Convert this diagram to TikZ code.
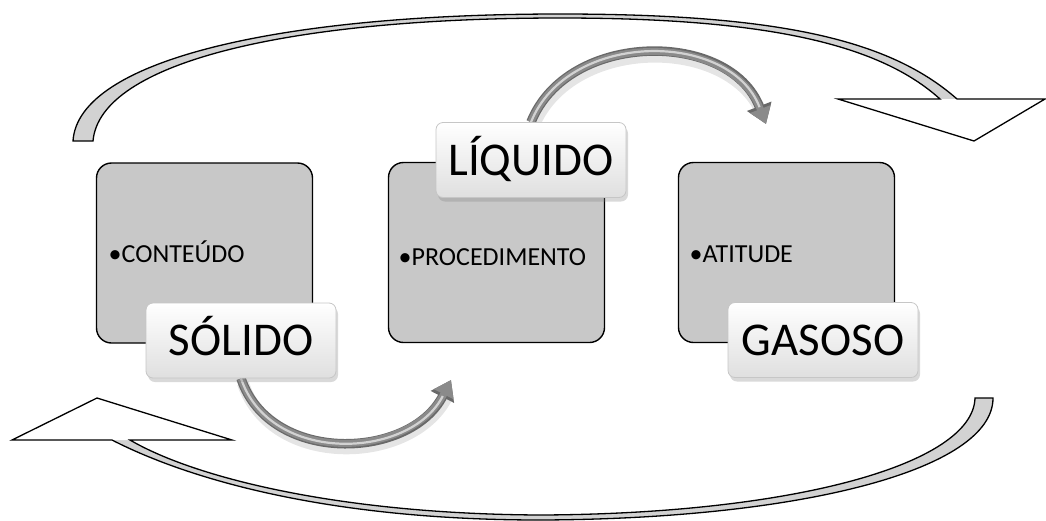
\documentclass[tikz,border=0pt]{standalone}
\usepackage{fontspec}
\setmainfont{Carlito}
\usetikzlibrary{arrows.meta,shadows}
\definecolor{boxgray}{RGB}{200,200,200}
\definecolor{bandgray}{RGB}{210,210,210}
\definecolor{tubegray}{RGB}{138,138,138}
\definecolor{tubedark}{RGB}{105,105,105}
\definecolor{tubelight}{RGB}{210,210,210}
\pgfdeclarelayer{bg}
\pgfsetlayers{bg,main}
\begin{document}
\begin{tikzpicture}[x=1pt,y=-1pt,
  phase/.style={draw=black, line width=1.4pt, fill=boxgray, rounded corners=15pt,
    minimum width=216pt, minimum height=180pt, inner sep=0pt},
  tag/.style={draw=gray!45, line width=0.8pt, top color=white, bottom color=gray!25,
    rounded corners=7pt, minimum width=190pt, minimum height=75pt, inner sep=0pt,
    text height=30pt, text depth=0pt, font=\fontsize{47}{50}\selectfont,
    drop shadow={opacity=0.3, shadow xshift=2pt, shadow yshift=-4pt}},
  item/.style={font=\fontsize{26}{28}\selectfont, anchor=base west, inner sep=0pt},
  band/.style={draw=black, line width=1.3pt, line join=miter},
  tubeshade/.style={line width=12pt, draw=black, opacity=0.10, shorten >=14pt,
    transform canvas={shift={(2pt,-5pt)}}},
  tubeedge/.style={line width=9.5pt, draw=tubedark, -{Triangle[length=19pt,width=25pt]}},
  tubemain/.style={line width=7pt, draw=tubegray, -{Triangle[length=16pt,width=21pt]}},
  tubehi/.style={line width=2.2pt, draw=tubelight, shorten >=18pt}
]
\path[use as bounding box] (0,0) rectangle (1046,520);

% big outline arrow, top
\fill[bandgray] (73,141) .. controls (78,60) and (280,14) .. (560,14)
  .. controls (780,14) and (890,40) .. (957,99) -- (940,99)
  .. controls (880,45) and (770,18) .. (560,18)
  .. controls (290,18) and (100,62) .. (93,141) -- cycle;
\fill[white] (957,99) -- (1045,99) -- (974,141) -- (838,99) -- (940,99) -- cycle;
\draw[band] (73,141) .. controls (78,60) and (280,14) .. (560,14)
  .. controls (780,14) and (890,40) .. (957,99) -- (1045,99) -- (974,141)
  -- (838,99) -- (940,99)
  .. controls (880,45) and (770,18) .. (560,18)
  .. controls (290,18) and (100,62) .. (93,141) -- cycle;

% big outline arrow, bottom
\fill[bandgray] (993,398) .. controls (993,470) and (800,519) .. (540,520)
  .. controls (330,520) and (190,480) .. (112,440) -- (130,440)
  .. controls (195,478) and (340,514) .. (540,515)
  .. controls (790,514) and (973,465) .. (975,398) -- cycle;
\fill[white] (112,440) -- (12,440) -- (97,398) -- (232,440) -- (130,440) -- cycle;
\draw[band] (993,398) .. controls (993,470) and (800,519) .. (540,520)
  .. controls (330,520) and (190,480) .. (112,440) -- (12,440) -- (97,398)
  -- (232,440) -- (130,440)
  .. controls (195,478) and (340,514) .. (540,515)
  .. controls (790,514) and (973,465) .. (975,398) -- cycle;

% boxes
\node[phase] (b1) at (204.5,253) {};
\node[phase] (b2) at (496.5,252.5) {};
\node[phase] (b3) at (786.5,252.5) {};
\node[item] (i1) at (108.5,262) {•CONTEÚDO};
\node[item] (i2) at (398.5,265) {•PROCEDIMENTO};
\node[item] (i3) at (689.5,262) {•ATITUDE};

% labels
\node[tag] (sol) at (241,340.5) {SÓLIDO};
\node[tag] (liq) at (531,160) {LÍQUIDO};
\node[tag] (gas) at (823,340) {GASOSO};

\coordinate (t1) at (451,380);
\coordinate (t2) at (766,124);

\begin{pgfonlayer}{bg}
  \draw[tubeshade] (sol.south) .. controls (270,465) and (410,460) .. (t1);
  \draw[tubeedge] (sol.south) .. controls (270,465) and (410,460) .. (t1);
  \draw[tubemain] (sol.south) .. controls (270,465) and (410,460) .. (t1);
  \draw[tubehi] (sol.south) .. controls (270,465) and (410,460) .. (t1);

  \draw[tubeshade] (liq.north) .. controls (568,30) and (730,30) .. (t2);
  \draw[tubeedge] (liq.north) .. controls (568,30) and (730,30) .. (t2);
  \draw[tubemain] (liq.north) .. controls (568,30) and (730,30) .. (t2);
  \draw[tubehi] (liq.north) .. controls (568,30) and (730,30) .. (t2);
\end{pgfonlayer}
\end{tikzpicture}
\end{document}
